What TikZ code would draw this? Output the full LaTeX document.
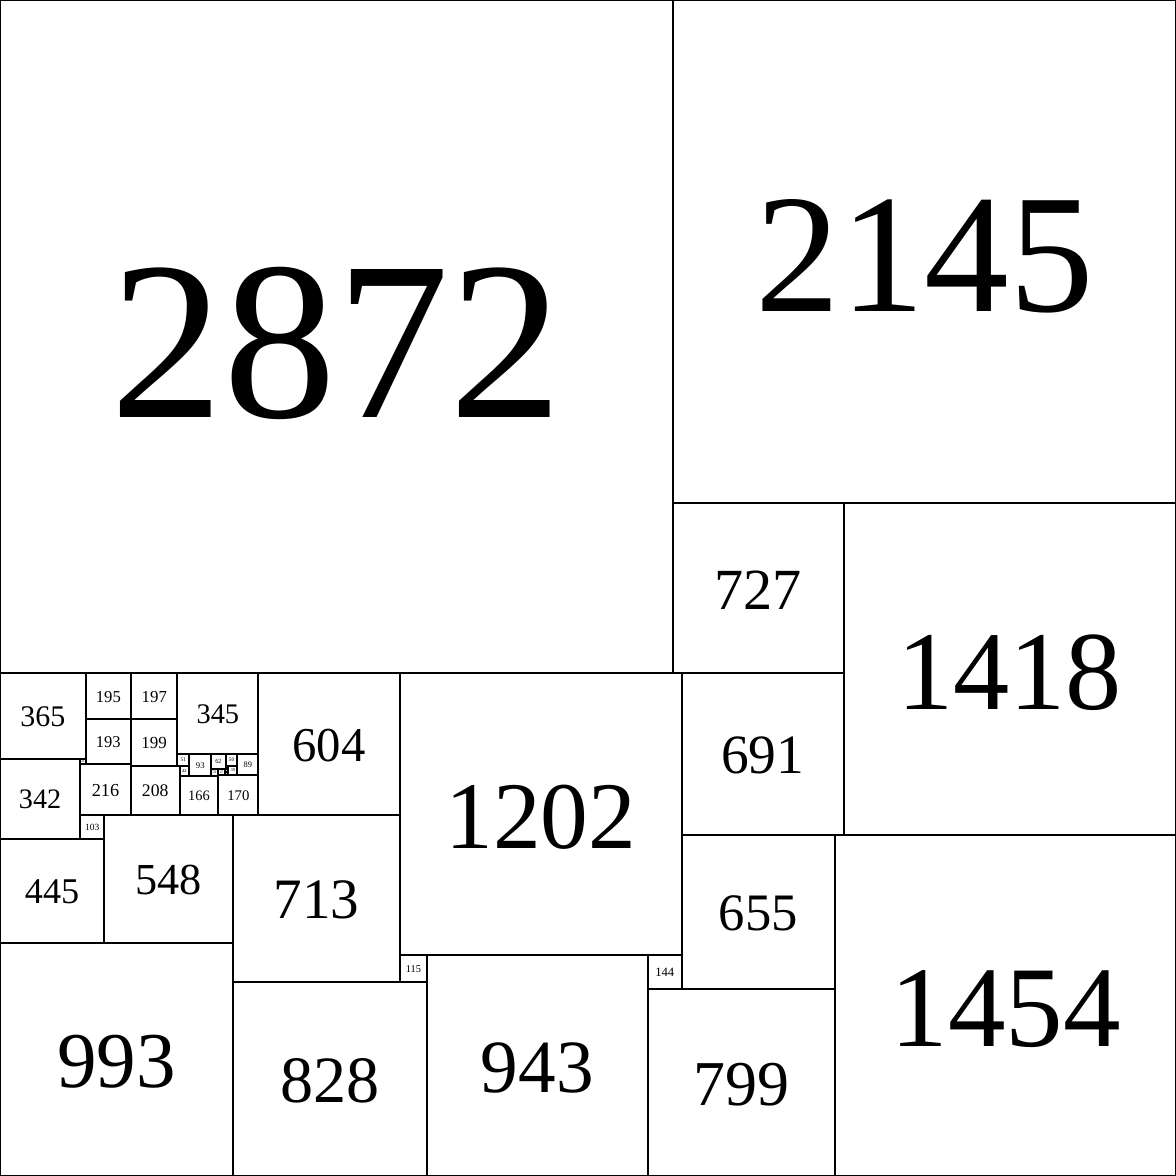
\documentclass[tikz,border=0pt]{standalone}
\usepackage{fontspec}
\setmainfont{Liberation Serif}
\usepackage{tikz}

\tikzset{
  tile/.style={draw, line width=0.85pt},
  sqlabel/.style={inner sep=0pt, outer sep=0pt}
}

\begin{document}
\begin{tikzpicture}[x=0.1pt, y=-0.1pt]

        % Whole square, side 5017
        \useasboundingbox (0,0) rectangle (5017,5017);

        % Tiles: left / top / side, label size grows with the side
        \foreach \x/\y/\s [count=\i] in {
            0/0/2872, 2872/0/2145, 2872/2145/727, 3599/2145/1418,
            2908/2872/691, 1706/2872/1202, 2908/3563/655, 3563/3563/1454,
            2764/4218/799, 2764/4074/144, 1821/4074/943, 1706/4074/115,
            993/4189/828, 0/4024/993, 993/3476/713, 1102/2872/604,
            445/3476/548, 0/3579/445, 0/3237/342, 0/2872/365,
            342/3476/103, 342/3260/216, 342/3237/23, 365/2872/195,
            560/2872/197, 558/3067/2, 365/3067/193, 558/3069/199,
            558/3268/208, 757/2872/345, 766/3310/166, 932/3306/170,
            757/3217/51, 766/3268/42, 808/3217/93, 901/3217/62,
            963/3217/50, 1013/3217/89, 901/3279/31, 932/3279/27,
            974/3267/39, 959/3279/15, 959/3294/12,
            971/3294/3, 971/3297/3, 971/3300/3, 971/3303/3,
            963/3267/6, 963/3273/6, 969/3267/5, 969/3272/5,
            969/3277/2, 971/3277/2, 973/3277/1, 973/3278/1} {
          \pgfmathsetmacro{\fs}{0.03337*\s+0.6}
          \pgfmathsetmacro{\dn}{-0.03*\fs}
          \draw[tile] (\x,\y) rectangle ++(\s,\s);
          \node[sqlabel, yshift=\dn pt, font=\fontsize{\fs pt}{\fs pt}\selectfont]
            (sq\i) at (\x+\s/2,\y+\s/2) {\s};
        }

      \end{tikzpicture}
\end{document}
